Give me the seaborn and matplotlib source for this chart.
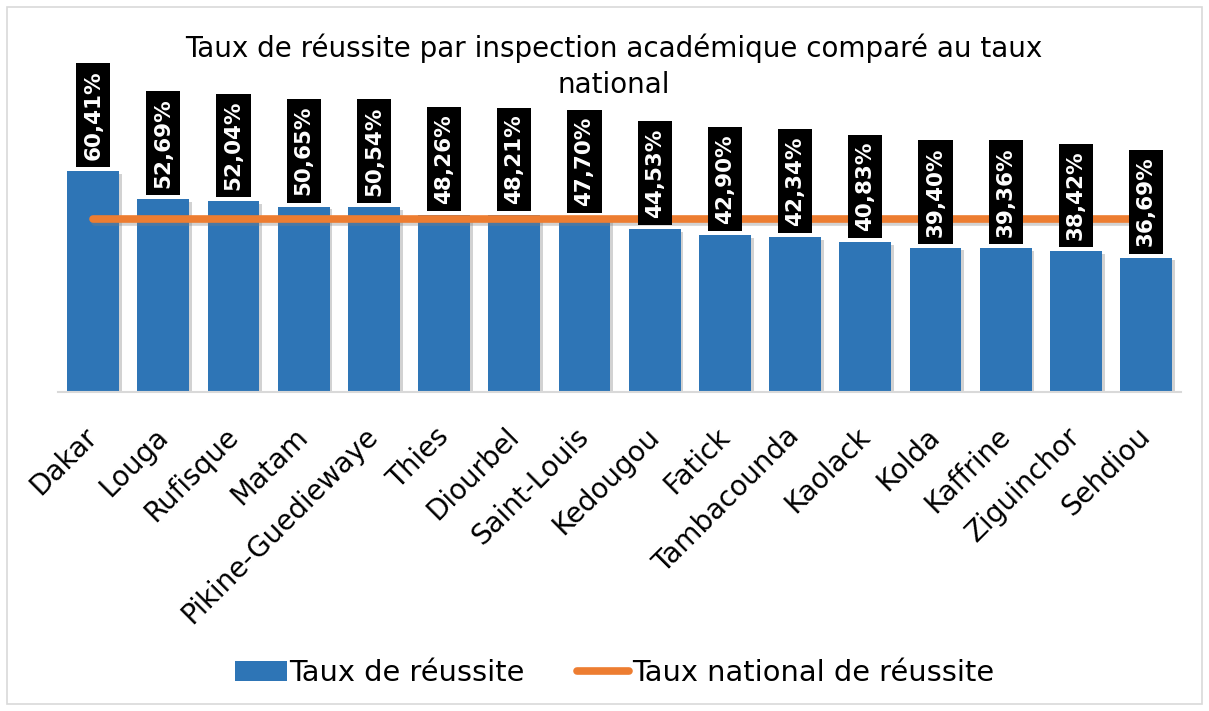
import numpy as np
import matplotlib
matplotlib.use("Agg")
import matplotlib.pyplot as plt
import matplotlib.patheffects as pe
import matplotlib.transforms as mtransforms
from matplotlib.patches import Patch, Rectangle
from matplotlib.lines import Line2D
import seaborn as sns

# data
inspections = ['Dakar', 'Louga', 'Rufisque', 'Matam', 'Pikine-Guediewaye', 'Thies',
               'Diourbel', 'Saint-Louis', 'Kedougou', 'Fatick', 'Tambacounda',
               'Kaolack', 'Kolda', 'Kaffrine', 'Ziguinchor', 'Sehdiou']
taux = [60.41, 52.69, 52.04, 50.65, 50.54, 48.26, 48.21, 47.70, 44.53, 42.90,
        42.34, 40.83, 39.40, 39.36, 38.42, 36.69]
taux_national = 47.3

blue = '#2E75B6'
orange = '#ED7D31'

sns.set_style('white')
plt.rcParams['font.family'] = ['DejaVu Sans']
plt.rcParams['text.color'] = 'black'

fig = plt.figure(figsize=(12.09, 7.11), dpi=100)
ax = fig.add_axes([0.048, 0.449, 0.929, 0.36])

shadow = [pe.SimplePatchShadow(offset=(2, -2), shadow_rgbFace='gray', alpha=0.35), pe.Normal()]

sns.barplot(x=inspections, y=taux, color=blue, width=0.74, ax=ax, saturation=1, linewidth=0)
for bar in ax.patches:
    bar.set_path_effects(shadow)

# national rate line
n = len(inspections)
ax.plot(np.arange(n), [taux_national] * n, color=orange, lw=5.5, solid_capstyle='round',
        path_effects=[pe.SimpleLineShadow(offset=(1.5, -2), shadow_color='gray', alpha=0.35), pe.Normal()])

# value labels
for i, v in enumerate(taux):
    ax.annotate(f"{v:.2f}%".replace('.', ','), (i, v), xytext=(0, 8), textcoords='offset points',
                rotation=90, ha='center', va='bottom', color='white', fontsize=15.5, fontweight='bold',
                bbox=dict(boxstyle='square,pad=0.33', fc='black', ec='none'))

ax.set_ylim(0, 70)
ax.set_xlim(-0.5, n - 0.5)
ax.set_yticks([])
for s in ['left', 'right', 'top']:
    ax.spines[s].set_visible(False)
ax.spines['bottom'].set_color('#d9d9d9')
ax.spines['bottom'].set_linewidth(1.5)
ax.tick_params(axis='x', length=0, pad=22)
shift = mtransforms.ScaledTranslation(10 / 100, 0, fig.dpi_scale_trans)
for lab in ax.get_xticklabels():
    lab.set_rotation(45)
    lab.set_ha('right')
    lab.set_fontsize(20)
    lab.set_color('black')
    lab.set_transform(lab.get_transform() + shift)

fig.text(0.508, 0.907, 'Taux de réussite par inspection académique comparé au taux\nnational',
         ha='center', va='center', fontsize=20, linespacing=1.35)

handles = [Patch(facecolor=blue, edgecolor='none'),
           Line2D([0], [0], color=orange, lw=5.5, solid_capstyle='round')]
fig.legend(handles, ['Taux de réussite', 'Taux national de réussite'], loc='center',
           bbox_to_anchor=(0.508, 0.053), ncol=2, frameon=False, fontsize=20.8,
           handlelength=1.8, handleheight=0.7, handletextpad=0.1, columnspacing=1.8)

# chart border
fig.patches.append(Rectangle((7 / 1209, 7 / 711), 1195 / 1209, 697 / 711, transform=fig.transFigure,
                             fill=False, ec='#d9d9d9', lw=1.2))

fig.savefig('out.png', dpi=100)
